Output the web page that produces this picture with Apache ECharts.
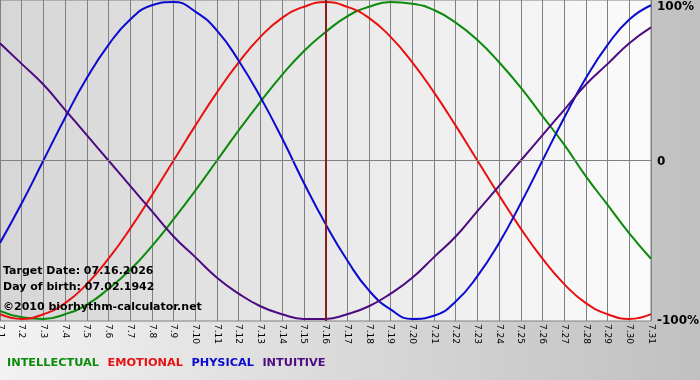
<!DOCTYPE html>
<html><head><meta charset="utf-8">
<script src="https://cdn.jsdelivr.net/npm/echarts@6/dist/echarts.min.js"></script>
<style>html,body{margin:0;padding:0;}#c{width:700px;height:380px;}</style>
</head><body><div id="c"></div>
<script>
var days = ['7.1','7.2','7.3','7.4','7.5','7.6','7.7','7.8','7.9','7.10','7.11','7.12','7.13','7.14','7.15','7.16','7.17','7.18','7.19','7.20','7.21','7.22','7.23','7.24','7.25','7.26','7.27','7.28','7.29','7.30','7.31'];
var intellectual = [-0.95,-0.99,-1.00,-0.97,-0.91,-0.81,-0.69,-0.54,-0.37,-0.19,0.00,0.19,0.37,0.54,0.69,0.81,0.91,0.97,1.00,0.99,0.95,0.87,0.76,0.62,0.46,0.28,0.10,-0.10,-0.28,-0.46,-0.62];
var emotional = [-0.97,-1.00,-0.97,-0.90,-0.78,-0.62,-0.43,-0.22,0.00,0.22,0.43,0.62,0.78,0.90,0.97,1.00,0.97,0.90,0.78,0.62,0.43,0.22,0.00,-0.22,-0.43,-0.62,-0.78,-0.90,-0.97,-1.00,-0.97];
var physical = [-0.52,-0.27,0.00,0.27,0.52,0.73,0.89,0.98,1.00,0.94,0.82,0.63,0.40,0.14,-0.14,-0.40,-0.63,-0.82,-0.94,-1.00,-0.98,-0.89,-0.73,-0.52,-0.27,0.00,0.27,0.52,0.73,0.89,0.98];
var intuitive = [0.74,0.61,0.48,0.32,0.16,0.00,-0.16,-0.32,-0.48,-0.61,-0.74,-0.84,-0.92,-0.97,-1.00,-1.00,-0.97,-0.92,-0.84,-0.74,-0.61,-0.48,-0.32,-0.16,0.00,0.16,0.32,0.48,0.61,0.74,0.84];
var yTicks = [-1, 0, 1];
var yTickLabels = {'-1':'-100%','0':'0','1':'100%'};
var targetDay = '7.16';
var infoLines = ['Target Date: 07.16.2026','Day of birth: 07.02.1942','\u00a92010 biorhythm-calculator.net'];

var names = ['INTELLECTUAL','EMOTIONAL','PHYSICAL','INTUITIVE'];
var colors = ['#0b8a0b','#e81010','#0a0ad0','#4c0b80'];
var values = [intellectual, emotional, physical, intuitive];
var FONT = 'DejaVu Sans';

var series = names.map(function(n,i){
  return {name:n,type:'line',data:values[i],smooth:0.5,showSymbol:false,
    lineStyle:{color:colors[i],width:2},itemStyle:{color:colors[i]},z:3};
});
series.push({type:'line',data:[],silent:true,z:5,
  markLine:{symbol:'none',silent:true,animation:false,label:{show:false},
    data:[{yAxis:0,lineStyle:{color:'#808080',width:1,type:'solid'}},
          {xAxis:targetDay,lineStyle:{color:'#8a1c1c',width:2,type:'solid'}}]}});

var labelStyle = {color:'#000',fontFamily:FONT,fontWeight:'bold',fontSize:12};
var chart = echarts.init(document.getElementById('c'));
chart.setOption({
  animation:false,
  backgroundColor:{type:'linear',x:0,y:0,x2:1,y2:0,colorStops:[{offset:0,color:'#f2f2f2'},{offset:1,color:'#c0c0c0'}]},
  grid:{left:0,right:49,top:0,bottom:59,outerBoundsMode:'none',containLabel:false,show:true,borderColor:'#808080',borderWidth:1,
    backgroundColor:{type:'linear',x:0,y:0,x2:1,y2:0,colorStops:[{offset:0,color:'#d6d6d6'},{offset:1,color:'#fbfbfb'}]}},
  legend:{left:-3,top:353,itemWidth:0,itemHeight:0,itemGap:3.5,icon:'none',
    data:names.map(function(n,i){return {name:n,textStyle:{color:colors[i]}};}),
    textStyle:{fontFamily:FONT,fontWeight:'bold',fontSize:11.3}},
  xAxis:{type:'category',data:days,boundaryGap:false,
    axisLine:{lineStyle:{color:'#808080'}},axisTick:{show:false},
    axisLabel:{rotate:-90,interval:0,margin:3,color:'#000',fontFamily:FONT,fontSize:9},
    splitLine:{show:true,lineStyle:{color:'#808080',width:1}}},
  yAxis:{type:'value',position:'right',min:-1.013,max:1.013,
    axisLine:{show:false},axisTick:{show:false},splitLine:{show:false},
    axisLabel:{customValues:yTicks,margin:6,color:'#000',fontFamily:FONT,fontWeight:'bold',fontSize:12,
      rich:{t:Object.assign({padding:[9,0,0,0]},labelStyle),z:Object.assign({padding:[2,0,0,0]},labelStyle),b:Object.assign({padding:[4,0,0,0]},labelStyle)},
      formatter:function(v){var k=Math.round(v);var s=k>0?'t':(k<0?'b':'z');return '{'+s+'|'+yTickLabels[String(k)]+'}';}}},
  graphic:[
    {type:'text',left:3,top:266,z:10,style:{text:infoLines[0],fill:'#000',font:'bold 11px "DejaVu Sans"'}},
    {type:'text',left:3,top:282,z:10,style:{text:infoLines[1],fill:'#000',font:'bold 11px "DejaVu Sans"'}},
    {type:'text',left:3,top:302,z:10,style:{text:infoLines[2],fill:'#000',font:'bold 11px "DejaVu Sans"'}}
  ],
  series:series
});
</script></body></html>
